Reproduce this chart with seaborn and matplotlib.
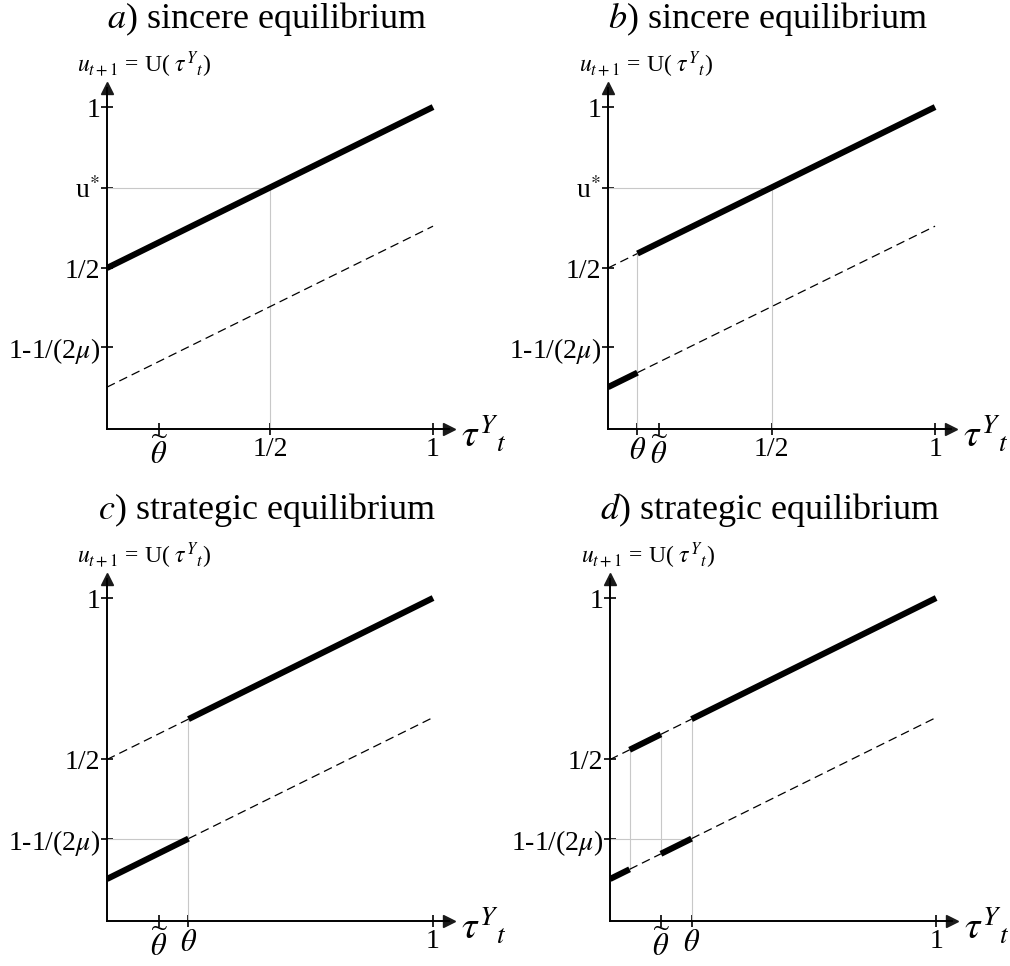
import numpy as np
import pandas as pd
import matplotlib.pyplot as plt
import seaborn as sns

# values
titles = [r'$a$) sincere equilibrium', r'$b$) sincere equilibrium',
          r'$c$) strategic equilibrium', r'$d$) strategic equilibrium']
slope = 0.5
upper_start = 0.5      # upper line at tau=0
lower_start = 0.13     # lower line at tau=0
u_star = 0.75
low_level = 0.255      # 1-1/(2mu)

# breakpoints along tau and whether each piece is thick (solid) or dashed
upper_breaks = [[0, 1], [0, 0.09, 1], [0, 0.25, 1], [0, 0.06, 0.156, 0.25, 1]]
upper_thick = [[True], [False, True], [False, True], [False, True, False, True]]
lower_breaks = [[0, 1], [0, 0.09, 1], [0, 0.25, 1], [0, 0.06, 0.156, 0.25, 1]]
lower_thick = [[False], [True, False], [True, False], [True, False, True, False]]

th = r'$\theta$'
tt = r'$\widetilde{\theta}$'
xtick_pos = [[0.16, 0.5, 1], [0.09, 0.156, 0.5, 1], [0.16, 0.25, 1], [0.156, 0.25, 1]]
xtick_lab = [[tt, '1/2', '1'], [th, tt, '1/2', '1'], [tt, th, '1'], [tt, th, '1']]
ytick_pos = [[0.255, 0.5, 0.75, 1], [0.255, 0.5, 0.75, 1], [0.255, 0.5, 1], [0.255, 0.5, 1]]
mu_lab = r'1-1/(2$\mu$)'
ustar_lab = r'u$^{*}$'
ytick_lab = [[mu_lab, '1/2', ustar_lab, '1'], [mu_lab, '1/2', ustar_lab, '1'],
             [mu_lab, '1/2', '1'], [mu_lab, '1/2', '1']]

# guide lines: ('ustar', x) = corner at u*; ('full', x) = axis up to upper line;
# ('mu', x) = level 1-1/(2mu) out to x; ('between', x) = lower line to upper line
guides = [[('ustar', 0.5)],
          [('ustar', 0.5), ('full', 0.09)],
          [('full', 0.25), ('mu', 0.25)],
          [('full', 0.25), ('mu', 0.25), ('between', 0.06), ('between', 0.156)]]

sns.set_theme(style='white')
plt.rcParams['font.family'] = ['Liberation Serif', 'DejaVu Serif']
plt.rcParams['mathtext.fontset'] = 'stix'

fig = plt.figure(figsize=(10.1, 9.66), dpi=100)
positions = [[0.1059, 0.5559, 0.339, 0.3533],
             [0.602, 0.5559, 0.340, 0.3533],
             [0.1059, 0.0466, 0.339, 0.3544],
             [0.604, 0.0466, 0.339, 0.3544]]

upper = lambda x: upper_start + slope * np.asarray(x)
lower = lambda x: lower_start + slope * np.asarray(x)
guide_col = '#c8c8c8'

for i in range(4):
    ax = fig.add_axes(positions[i])
    ax.set_xlim(0, 1.05)
    ax.set_ylim(0, 1.06)

    # guide lines first, underneath
    for kind, gx in guides[i]:
        if kind == 'ustar':
            ax.plot([0, gx], [u_star, u_star], color=guide_col, lw=0.8)
            ax.plot([gx, gx], [0, u_star], color=guide_col, lw=0.8)
        elif kind == 'full':
            ax.plot([gx, gx], [0, upper(gx)], color=guide_col, lw=0.8)
        elif kind == 'mu':
            ax.plot([0, gx], [low_level, low_level], color=guide_col, lw=0.8)
        elif kind == 'between':
            ax.plot([gx, gx], [lower(gx), upper(gx)], color=guide_col, lw=0.8)

    for breaks, thick, f in [(upper_breaks[i], upper_thick[i], upper),
                             (lower_breaks[i], lower_thick[i], lower)]:
        for j, is_thick in enumerate(thick):
            seg = pd.DataFrame({'x': [breaks[j], breaks[j + 1]]})
            seg['y'] = f(seg['x'])
            if is_thick:
                sns.lineplot(data=seg, x='x', y='y', ax=ax, color='black', lw=4.4,
                             solid_capstyle='butt')
            else:
                sns.lineplot(data=seg, x='x', y='y', ax=ax, color='black', lw=0.9,
                             linestyle=(0, (7, 4)))

    for s in ['top', 'right']:
        ax.spines[s].set_visible(False)
    for s in ['left', 'bottom']:
        ax.spines[s].set_color('black')
        ax.spines[s].set_linewidth(1.4)
    ax.plot(1, 0, '>k', markersize=9, transform=ax.transAxes, clip_on=False)
    ax.plot(0, 1, '^k', markersize=9, transform=ax.transAxes, clip_on=False)

    ax.set_xticks(xtick_pos[i])
    ax.set_xticklabels(xtick_lab[i])
    ax.set_yticks(ytick_pos[i])
    ax.set_yticklabels(ytick_lab[i])
    ax.tick_params(axis='both', direction='inout', length=8, width=1.2,
                   color='black', labelsize=20, labelcolor='black',
                   bottom=True, left=True)
    ax.tick_params(axis='x', pad=2)
    ax.tick_params(axis='y', pad=1)
    for lab in ax.get_xticklabels():
        if 'theta' in lab.get_text():
            lab.set_fontsize(22)
    ax.set_xlabel('')
    ax.set_ylabel('')

    ax.text(0.467, 1.175, titles[i], transform=ax.transAxes, ha='center',
            va='baseline', fontsize=26, color='black')
    ax.text(0.11, 1.045, r'$u_{t+1}$ = U( $\tau^{Y}{}_{t}$)', transform=ax.transAxes,
            ha='center', va='baseline', fontsize=17, color='black')
    ax.text(1.033, -0.02, r'$\tau^{Y}{}_{t}$', transform=ax.transAxes,
            ha='left', va='center', fontsize=28, color='black')

fig.savefig('out.png', dpi=100, facecolor='white')
